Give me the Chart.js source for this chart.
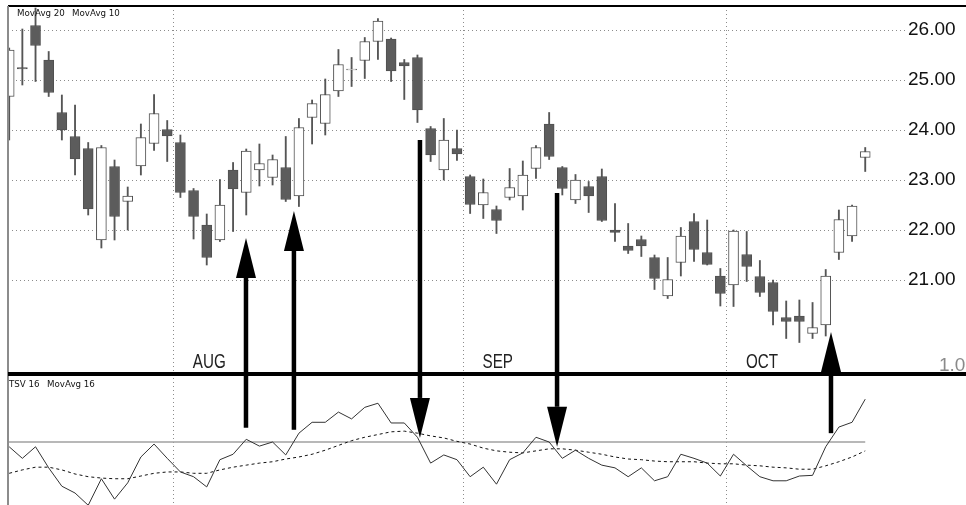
<!DOCTYPE html>
<html>
<head>
<meta charset="utf-8">
<script src="https://cdn.jsdelivr.net/npm/chart.js@4.4.0/dist/chart.umd.min.js"></script>
<style>
html,body{margin:0;padding:0;background:#ffffff;}
canvas{display:block;}
</style>
</head>
<body>
<canvas id="c" width="966" height="505"></canvas>
<script>
// ---- price candles (one per trading day, index 0..65) ----
const opens = [24.67,25.25,26.09,25.40,24.35,23.87,23.63,21.80,23.27,22.57,
  23.28,23.73,24.01,23.75,22.79,22.10,21.80,23.20,22.75,23.20,
  23.05,23.25,22.68,24.25,24.13,24.78,25.20,25.39,25.77,25.82,
  25.35,25.45,24.03,23.20,23.63,23.07,22.50,22.41,22.65,22.68,
  23.23,24.12,23.25,22.60,22.87,23.07,22.00,21.68,21.81,21.45,
  20.68,21.35,22.17,21.55,21.08,20.90,21.51,21.07,20.95,20.25,
  20.28,19.93,20.10,21.55,21.88,23.45];
const highs = [25.64,26.02,26.44,25.57,24.70,24.50,23.75,23.69,23.40,22.86,
  24.12,24.71,24.19,23.90,22.83,22.32,23.01,23.35,23.62,23.72,
  23.50,23.87,24.23,24.60,25.02,25.61,25.45,25.85,26.23,25.84,
  25.41,25.50,24.07,24.23,24.00,23.10,23.02,22.48,23.23,23.38,
  23.69,24.35,23.27,23.11,22.97,23.22,22.53,22.13,21.88,21.50,
  21.45,22.05,22.33,22.20,21.23,22.00,21.97,21.39,21.00,20.58,
  20.60,20.55,21.21,22.40,22.50,23.65];
const lows = [23.80,24.90,24.97,24.67,23.80,23.10,22.30,21.64,21.80,22.00,
  23.10,23.59,23.37,22.65,21.82,21.30,21.77,21.97,22.30,22.88,
  22.90,22.57,22.47,23.72,23.90,24.67,24.87,25.03,25.41,24.97,
  24.61,24.15,23.37,23.00,23.39,22.33,22.23,21.93,22.60,22.40,
  23.03,23.41,22.70,22.53,22.35,22.17,21.77,21.53,21.47,20.81,
  20.63,21.08,21.37,21.30,20.48,20.47,20.97,20.67,20.10,19.83,
  19.75,19.83,19.88,21.41,21.77,23.17];
const closes = [25.60,25.22,25.69,24.75,24.00,23.42,22.42,23.65,22.27,22.68,
  23.85,24.33,23.88,22.75,22.27,21.45,22.50,22.82,23.58,23.33,
  23.41,22.61,24.05,24.53,24.71,25.31,25.22,25.77,26.18,25.18,
  25.28,24.40,23.50,23.80,23.52,22.51,22.75,22.19,22.85,23.10,
  23.65,23.47,22.83,23.00,22.68,22.19,21.95,21.59,21.68,21.03,
  21.01,21.88,21.61,21.31,20.73,21.98,21.27,20.75,20.37,20.17,
  20.17,20.05,21.08,22.21,22.48,23.57];

// ---- lower panel: TSV 16 and its 16-day moving average ----
const tsv = [-0.07,-0.24,-0.07,-0.38,-0.65,-0.75,-0.93,-0.54,-0.84,-0.60,
  -0.22,-0.03,-0.24,-0.44,-0.51,-0.66,-0.26,-0.18,0.04,-0.06,
  0.00,-0.19,0.13,0.29,0.29,0.44,0.34,0.51,0.57,0.28,
  0.28,0.07,-0.31,-0.19,-0.26,-0.51,-0.37,-0.62,-0.26,-0.16,
  0.07,0.00,-0.24,-0.12,-0.24,-0.34,-0.38,-0.51,-0.38,-0.57,
  -0.51,-0.18,-0.24,-0.31,-0.50,-0.18,-0.35,-0.51,-0.57,-0.57,
  -0.50,-0.49,-0.07,0.22,0.29,0.63];
const tsvMa = [-0.46,-0.41,-0.37,-0.37,-0.41,-0.47,-0.51,-0.53,-0.54,-0.54,
  -0.50,-0.46,-0.44,-0.44,-0.46,-0.46,-0.41,-0.37,-0.34,-0.31,
  -0.29,-0.25,-0.22,-0.18,-0.12,-0.05,0.02,0.07,0.11,0.15,
  0.16,0.13,0.09,0.06,0.01,-0.03,-0.09,-0.13,-0.15,-0.16,
  -0.13,-0.10,-0.10,-0.12,-0.15,-0.18,-0.22,-0.25,-0.26,-0.28,
  -0.29,-0.29,-0.29,-0.31,-0.32,-0.32,-0.34,-0.35,-0.37,-0.38,
  -0.40,-0.40,-0.35,-0.29,-0.22,-0.13];
const tsvRefLevel = 0;

// ---- axes / labels ----
const priceTicks = [21, 22, 23, 24, 25, 26];
const monthStarts = [12.5, 34.5, 54.5];
const monthNames = ['AUG', 'SEP', 'OCT'];
const tsvTopLabel = '1.0';
const topLegend = ['MovAvg 20', 'MovAvg 10'];
const bottomLegend = ['TSV 16', 'MovAvg 16'];

// ---- annotation arrows ----
const arrowIdx = [17.98, 21.62, 31.19, 41.6, 62.4];
const arrowPriceEnd = [21.84, 22.38, 23.80, 22.74, 19.96];
const arrowTsvEnd = [0.21, 0.18, 0.06, -0.07, 0.13];
const arrowUp = [true, true, false, false, true];

const X_MIN = -0.09, X_MAX = 68.02;

const isUp = opens.map((o, i) => closes[i] >= o);

const deco = {
  id: 'deco',
  afterDatasetsDraw(chart) {
    const {ctx, chartArea: ca, scales} = chart;
    const x = scales.x, y = scales.y, y2 = scales.y2;
    const W = chart.width;
    ctx.save();
    // frame
    ctx.fillStyle = '#000';
    ctx.fillRect(ca.left, ca.top - 1, W - ca.left, 2);
    ctx.fillStyle = '#8c8c8c';
    ctx.fillRect(ca.left - 1, ca.top, 2, ca.bottom - ca.top);
    const sepY = y2.top;
    ctx.fillStyle = '#000';
    ctx.fillRect(ca.left, sepY - 2, W - ca.left, 4);

    // legends
    ctx.fillStyle = '#111';
    ctx.font = '8.7px "DejaVu Sans", Verdana, sans-serif';
    ctx.textBaseline = 'alphabetic';
    ctx.textAlign = 'left';
    ctx.fillText(topLegend[0], ca.left + 9, ca.top + 10);
    ctx.fillText(topLegend[1], ca.left + 64, ca.top + 10);
    ctx.fillText(bottomLegend[0], ca.left + 1, sepY + 13);
    ctx.fillText(bottomLegend[1], ca.left + 39, sepY + 13);

    // month labels (condensed face)
    ctx.font = '20px "Liberation Sans", Arial, sans-serif';
    ctx.fillStyle = '#222';
    monthStarts.forEach((m, i) => {
      ctx.save();
      ctx.translate(x.getPixelForValue(m) + 19, sepY - 6);
      ctx.scale(0.76, 1);
      ctx.fillText(monthNames[i], 0, 0);
      ctx.restore();
    });

    // top label of TSV scale
    ctx.font = '19px "Liberation Sans", Arial, sans-serif';
    ctx.fillStyle = '#8a8a8a';
    ctx.fillText(tsvTopLabel, ca.right + 34, y2.getPixelForValue(1.0) - 3);

    // arrows
    ctx.fillStyle = '#000';
    const headLen = 40, headHalf = 10, shaft = 4.5;
    arrowIdx.forEach((ai, i) => {
      const px = x.getPixelForValue(ai);
      const pPrice = y.getPixelForValue(arrowPriceEnd[i]);
      const pTsv = y2.getPixelForValue(arrowTsvEnd[i]);
      const tip = arrowUp[i] ? pPrice : pTsv;
      const tail = arrowUp[i] ? pTsv : pPrice;
      const dir = tip < tail ? -1 : 1;
      const base = tip - dir * headLen;
      ctx.fillRect(px - shaft / 2, Math.min(tail, base), shaft, Math.abs(base - tail));
      ctx.beginPath();
      ctx.moveTo(px, tip);
      ctx.lineTo(px - headHalf, base);
      ctx.lineTo(px + headHalf, base);
      ctx.closePath();
      ctx.fill();
    });
    ctx.restore();
  }
};

const noPad = s => { s.paddingTop = 0; s.paddingBottom = 0; s.paddingLeft = 0; s.paddingRight = 0; };

new Chart(document.getElementById('c'), {
  type: 'bar',
  data: {
    datasets: [
      {
        type: 'bar', label: 'Body', xAxisID: 'x', yAxisID: 'y',
        data: opens.map((o, i) => ({x: i, y: [o, closes[i]]})),
        backgroundColor: isUp.map(u => u ? '#ffffff' : '#5c5c5c'),
        borderColor: isUp.map(u => u ? '#4e4e4e' : '#505050'),
        borderWidth: 1, borderSkipped: false,
        barThickness: 10, grouped: false, order: 1
      },
      {
        type: 'bar', label: 'Wick', xAxisID: 'x', yAxisID: 'y',
        data: highs.map((h, i) => ({x: i, y: [lows[i], h]})),
        backgroundColor: '#555555', borderWidth: 0,
        barThickness: 1.2, grouped: false, order: 2
      },
      {
        type: 'line', label: 'TSV 16', xAxisID: 'x', yAxisID: 'y2',
        data: tsv.map((v, i) => ({x: i, y: v})),
        borderColor: '#333333', borderWidth: 1, pointRadius: 0, tension: 0, order: 0
      },
      {
        type: 'line', label: 'MovAvg 16', xAxisID: 'x', yAxisID: 'y2',
        data: tsvMa.map((v, i) => ({x: i, y: v})),
        borderColor: '#111111', borderWidth: 1, borderDash: [3, 3], pointRadius: 0, tension: 0, order: 0
      },
      {
        type: 'line', label: 'zero', xAxisID: 'x', yAxisID: 'y2',
        data: [{x: X_MIN, y: tsvRefLevel}, {x: tsv.length - 1, y: tsvRefLevel}],
        borderColor: '#a0a0a0', borderWidth: 1.5, pointRadius: 0, order: 3
      }
    ]
  },
  options: {
    responsive: false,
    animation: false,
    devicePixelRatio: 1,
    layout: {padding: {left: 8, top: 6, right: 0, bottom: 0}},
    plugins: {legend: {display: false}, tooltip: {enabled: false}},
    scales: {
      x: {
        type: 'linear', min: X_MIN, max: X_MAX, offset: false,
        afterBuildTicks: s => { s.ticks = monthStarts.map(v => ({value: v})); },
        afterFit: s => { s.height = 0; noPad(s); },
        ticks: {display: false},
        grid: {color: '#8c8c8c', lineWidth: 1, drawTicks: false, offset: false},
        border: {display: false, dash: [1, 3]}
      },
      y: {
        type: 'linear', position: 'right', stack: 'panels', stackWeight: 368,
        min: 19.12, max: 26.48, offset: false,
        afterBuildTicks: s => { s.ticks = priceTicks.map(v => ({value: v})); },
        afterFit: s => { s.width = 61; noPad(s); },
        ticks: {
          autoSkip: false, padding: 3, color: '#111',
          font: {family: '"Liberation Sans", Arial, sans-serif', size: 19},
          callback: v => Number(v).toFixed(2)
        },
        grid: {color: '#8c8c8c', lineWidth: 1, drawTicks: false},
        border: {display: false, dash: [1, 3]}
      },
      y2: {
        type: 'linear', position: 'right', stack: 'panels', stackWeight: 131,
        min: -0.926, max: 1.0, offset: false,
        afterFit: s => { s.width = 61; noPad(s); },
        ticks: {display: false},
        grid: {display: false, drawTicks: false},
        border: {display: false}
      }
    }
  },
  plugins: [deco]
});
</script>
</body>
</html>
